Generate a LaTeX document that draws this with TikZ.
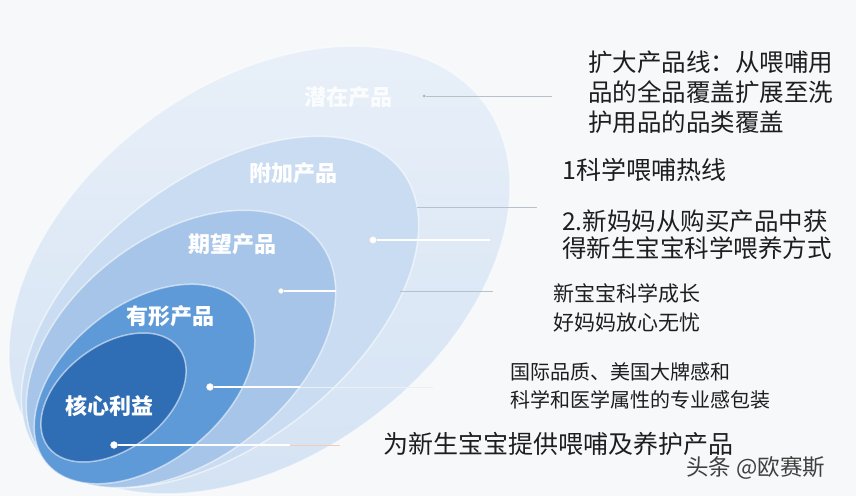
\documentclass[tikz,border=0pt]{standalone}
\usepackage{fontspec}
\newfontfamily\cjk{Noto Sans CJK SC}
\definecolor{bgc}{HTML}{F7F8FA}
\definecolor{ea}{HTML}{E2EBF6}
\definecolor{eatop}{HTML}{E9F0F9}
\definecolor{eabot}{HTML}{D3E2F3}
\definecolor{eb}{HTML}{C9DCF1}
\definecolor{ec}{HTML}{A6C5E9}
\definecolor{ed}{HTML}{5F9AD8}
\definecolor{ee}{HTML}{2F6DB4}
\definecolor{txtc}{HTML}{1E1E1E}
\definecolor{linegray}{HTML}{B8C0CC}
\definecolor{lineorange}{HTML}{F2CDB8}
\begin{document}
\begin{tikzpicture}[x=1pt,y=1pt,
  ring/.style={draw=white, draw opacity=0.55, line width=1.5pt},
  lbl/.style={text=white, font=\cjk\bfseries\fontsize{22}{22}\selectfont, inner sep=0pt},
  txt/.style={text=txtc, anchor=west, inner sep=0pt, align=left},
  dotw/.style={circle, fill=white, draw=white!80!gray, line width=0.4pt, inner sep=0pt, minimum size=7pt},
  dotg/.style={circle, fill=gray!60, inner sep=0pt, minimum size=3pt},
  wline/.style={draw=white, line width=1.2pt},
  gline/.style={draw=linegray, line width=0.8pt}]
\fill[bgc] (0,0) rectangle (856,496);
\useasboundingbox (0,0) rectangle (856,496);
% ellipses
\shade[top color=eatop, bottom color=eabot, ring, rotate around={36.6:(259.5,226)}] (259.5,226) ellipse [x radius=280, y radius=186];
\fill[eb, ring, rotate around={38:(220,184)}] (220,184) ellipse [x radius=230, y radius=132];
\fill[ec, ring, rotate around={37.5:(181,147)}] (181,147) ellipse [x radius=175, y radius=112];
\fill[ed, ring, rotate around={38.4:(144.5,112)}] (144.5,112) ellipse [x radius=126, y radius=79];
\fill[ee, ring, rotate around={37:(113.5,98.5)}] (113.5,98.5) ellipse [x radius=82, y radius=52];
% labels
\node[lbl, text opacity=0.85] (l1) at (348,399) {潜在产品};
\node[lbl] (l2) at (293,323) {附加产品};
\node[lbl] (l3) at (232,252) {期望产品};
\node[lbl] (l4) at (170,180) {有形产品};
\node[lbl] (l5) at (109,90) {核心利益};
% dots and line ends
\node[dotg] (d1) at (424,400) {};
\coordinate (e1) at (552,400);
\coordinate (s2) at (417,289);
\coordinate (e2) at (537,289);
\node[dotw] (d3) at (373,256) {};
\coordinate (e3) at (490,256);
\node[dotw, minimum size=5pt] (d4) at (281,205) {};
\coordinate (m4) at (336,205);
\coordinate (s4) at (400,205);
\coordinate (e4) at (493,205);
\node[dotw] (d5) at (210,109) {};
\coordinate (m5) at (300,109);
\coordinate (e5) at (433,109);
\node[dotw] (d6) at (114,51) {};
\coordinate (m6) at (290,51);
\coordinate (e6) at (340,51);
\draw[gline] (d1) -- (e1);
\draw[gline] (s2) -- (e2);
\draw[wline] (d3) -- (e3);
\draw[wline] (d4) -- (m4);
\draw[gline] (s4) -- (e4);
\draw[wline] (d5) -- (m5);
\draw[draw=white!75!linegray, line width=1pt] (m5) -- (e5);
\draw[wline] (d6) -- (m6);
\draw[draw=lineorange, line width=1pt] (m6) -- (e6);
% texts
\node[txt, font=\cjk\fontsize{24.5}{30}\selectfont] (t1) at (588,404) {扩大产品线：从喂哺用\\品的全品覆盖扩展至洗\\护用品的品类覆盖};
\node[txt, font=\cjk\fontsize{25}{30}\selectfont] (t2) at (562,326) {1科学喂哺热线};
\node[txt, font=\cjk\fontsize{24.5}{27}\selectfont] (t3) at (562,261) {2.新妈妈从购买产品中获\\得新生宝宝科学喂养方式};
\node[txt, font=\cjk\fontsize{21}{29}\selectfont] (t4) at (553,188) {新宝宝科学成长\\好妈妈放心无忧};
\node[txt, font=\cjk\fontsize{20}{28}\selectfont] (t5) at (510,110) {国际品质、美国大牌感和\\科学和医学属性的专业感包装};
\node[txt, font=\cjk\fontsize{25}{30}\selectfont] (t6) at (383,52) {为新生宝宝提供喂哺及养护产品};
\node[txt, text=black!75, font=\cjk\fontsize{22.5}{24}\selectfont] (wm) at (686,28) {头条 @欧赛斯};
\end{tikzpicture}
\end{document}
